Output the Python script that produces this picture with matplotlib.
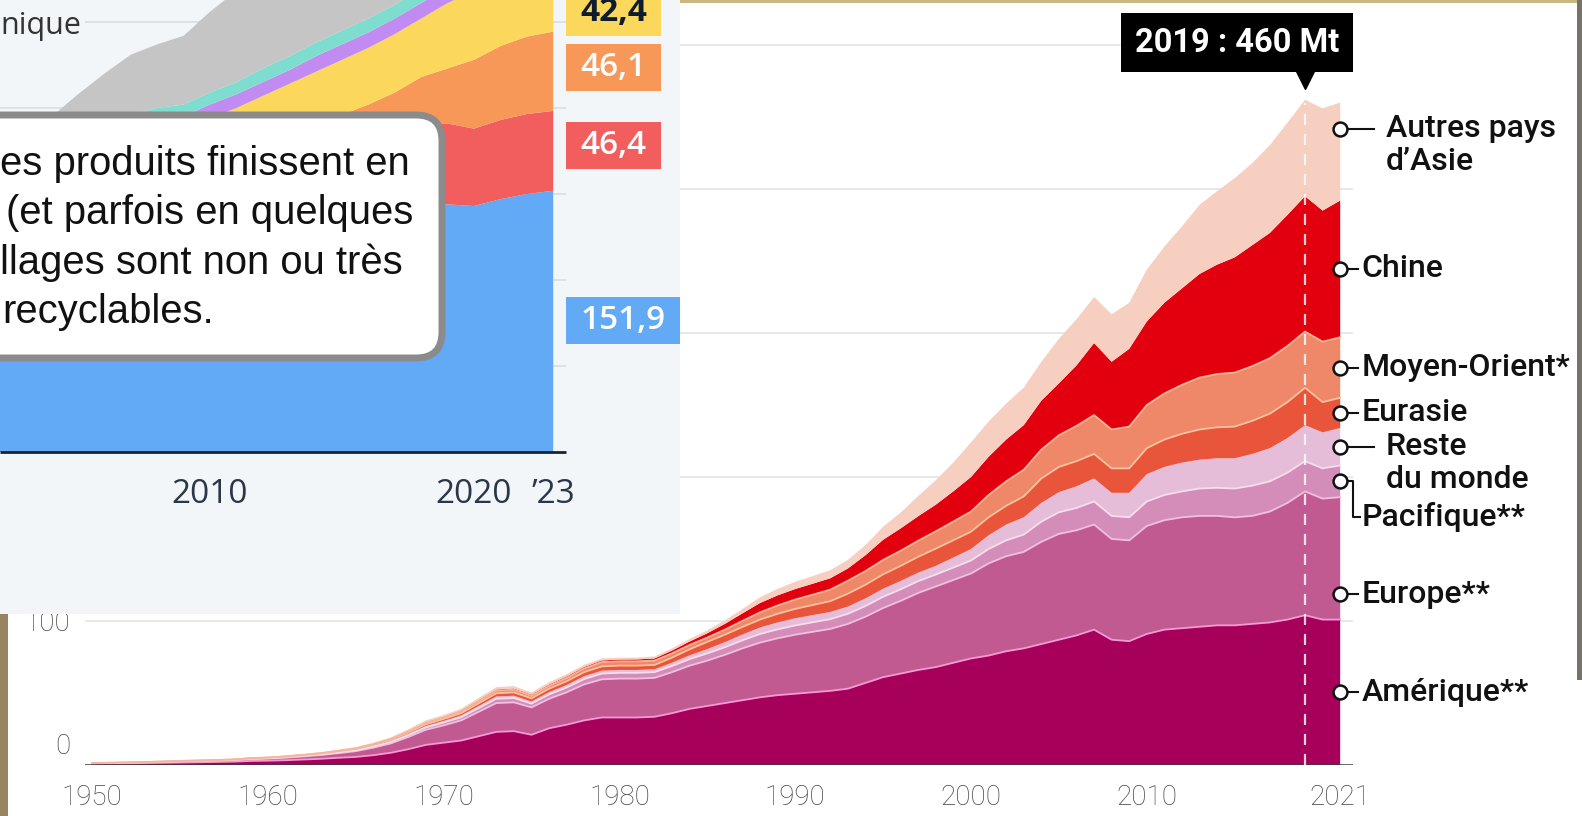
import numpy as np
import matplotlib
matplotlib.use('Agg')
import matplotlib.pyplot as plt
from matplotlib.patches import Rectangle, FancyBboxPatch
from matplotlib.transforms import offset_copy

W, H, DPI = 1582, 816, 100

# ---- main chart: plastic production by region (Mt), 1950-2021 ----
years = np.arange(1950, 2022)
amerique = [0.8, 1.0, 1.1, 1.3, 1.5, 1.7, 1.9, 2.1, 2.3, 2.8,
            3.0, 3.3, 3.8, 4.3, 5.0, 5.6, 6.8, 8.5, 11, 14,
            15.5, 17, 20, 23, 23.5, 21, 25.5, 28, 31, 33,
            33, 33, 33.5, 36, 39, 41, 43, 45, 47, 48.5,
            49.5, 50.5, 51.5, 53, 57, 61, 63.5, 66, 68, 71,
            74, 76, 79, 81, 84, 87, 90, 94, 87, 86,
            91, 94, 95, 96, 97, 97, 98, 99, 101, 104,
            101, 101]
europe = [0.3, 0.4, 0.5, 0.6, 0.7, 0.8, 0.9, 1.0, 1.1, 1.3,
          1.5, 1.8, 2.2, 2.6, 3.2, 4.0, 5.2, 6.5, 8.5, 10.5,
          12, 14, 17, 20, 20, 19, 20.5, 22.5, 25, 26.5,
          27, 27, 27, 28.5, 30, 31.5, 33.5, 36, 38, 39.5,
          41, 42, 43, 45, 46, 48, 50.5, 53.5, 56, 57.5,
          59, 64, 66, 67, 71, 73.5, 73, 73, 70, 70,
          75, 76, 77, 77, 76, 75, 75, 77, 81, 86,
          84, 85]
pacifique = [0.05, 0.05, 0.05, 0.05, 0.1, 0.1, 0.1, 0.1, 0.15, 0.2,
             0.2, 0.3, 0.3, 0.4, 0.5, 0.6, 0.8, 1.0, 1.3, 1.6,
             2.0, 2.2, 2.6, 3.0, 3.0, 2.6, 3.0, 3.3, 3.7, 4.0,
             4.0, 4.0, 4.0, 4.3, 4.6, 5.0, 5.3, 5.6, 6.0, 6.2,
             6.4, 6.6, 6.8, 7.0, 7.4, 7.8, 8.0, 8.2, 8.3, 8.6,
             9, 10, 11, 12, 14, 15, 15.5, 16, 16, 16,
             17, 17.5, 18, 19, 19.5, 20, 21, 21, 21, 21,
             21, 22]
reste = [0.05, 0.05, 0.05, 0.05, 0.05, 0.1, 0.1, 0.1, 0.1, 0.15,
         0.2, 0.2, 0.25, 0.3, 0.35, 0.4, 0.5, 0.6, 0.8, 1.0,
         1.1, 1.2, 1.4, 1.6, 1.6, 1.5, 1.6, 1.8, 2.0, 2.0,
         2.0, 2.0, 2.0, 2.3, 2.6, 3.0, 3.5, 4.0, 4.5, 4.8,
         5.0, 5.0, 5.0, 5.0, 5.3, 5.6, 5.8, 5.9, 6.0, 7.0,
         8, 9.5, 11, 12, 13, 14, 15, 16, 16, 17,
         19, 19.5, 20, 20, 20.5, 21, 22, 23, 24, 25,
         25, 26]
eurasie = [0.05, 0.05, 0.05, 0.05, 0.05, 0.1, 0.1, 0.1, 0.15, 0.2,
           0.25, 0.3, 0.35, 0.4, 0.5, 0.6, 0.7, 0.8, 1.0, 1.2,
           1.4, 1.6, 1.9, 2.2, 2.3, 2.2, 2.4, 2.6, 2.8, 3.0,
           3.0, 3.0, 3.0, 3.5, 4.2, 5.0, 5.2, 5.3, 5.5, 6.0,
           6.5, 7.0, 7.5, 9.0, 9.5, 10, 10.5, 11, 12, 12,
           12, 12.5, 13, 14.5, 17, 17.5, 17.5, 17, 17, 17,
           18, 19, 20, 21, 21.5, 22, 23, 24, 25, 26,
           21, 21]
moyen_orient = [0.02, 0.02, 0.02, 0.02, 0.02, 0.05, 0.05, 0.05, 0.05, 0.1,
                0.1, 0.1, 0.15, 0.2, 0.25, 0.3, 0.4, 0.5, 0.6, 0.8,
                1.0, 1.2, 1.5, 1.8, 1.9, 1.8, 2.0, 2.3, 2.6, 3.0,
                3.0, 3.0, 3.0, 3.0, 3.0, 3.0, 3.5, 4.2, 5.0, 5.8,
                6.5, 7.2, 8.0, 9.0, 9.5, 10, 10.5, 11.2, 12, 13,
                14, 15.5, 17, 18.5, 20, 22, 24.5, 27, 27, 29,
                30, 32, 34, 36, 37, 37.5, 38, 38.5, 39, 39,
                42, 42]
chine = [0.01, 0.01, 0.01, 0.01, 0.02, 0.02, 0.03, 0.03, 0.05, 0.08,
         0.1, 0.1, 0.12, 0.15, 0.2, 0.25, 0.3, 0.35, 0.4, 0.5,
         0.5, 0.6, 0.7, 0.8, 0.8, 0.8, 0.9, 1.0, 1.0, 1.1,
         1.2, 1.3, 1.5, 1.9, 2.4, 3.0, 4.0, 5.2, 6.5, 7.0,
         7.3, 7.6, 7.9, 8.5, 11, 14, 15.5, 17, 18.5, 21,
         24, 26.5, 29, 31, 34, 36, 42, 50, 47, 54,
         58, 63, 67, 72, 76, 80, 84, 87, 91, 94,
         91, 95]
autres_asie = [0.1, 0.1, 0.1, 0.1, 0.1, 0.1, 0.15, 0.15, 0.2, 0.3,
               0.3, 0.3, 0.4, 0.5, 0.6, 0.7, 0.8, 1.0, 1.2, 1.5,
               1.2, 1.3, 1.5, 1.7, 1.7, 1.5, 1.6, 1.6, 1.5, 1.4,
               1.3, 1.3, 1.4, 1.6, 1.8, 2.0, 2.5, 3.0, 4.0, 4.5,
               5.0, 5.3, 5.6, 6.0, 7.0, 9.0, 11, 14, 17, 20,
               24, 24.5, 25, 26, 27, 31, 32, 32, 33, 32,
               36, 39, 43, 48, 51, 55, 57, 61, 64, 67,
               71, 68]

regions = ['Amérique**', 'Europe**', 'Pacifique**', 'Reste du monde',
           'Eurasie', 'Moyen-Orient*', 'Chine', 'Autres pays d’Asie']
layers = [amerique, europe, pacifique, reste, eurasie, moyen_orient, chine, autres_asie]
colors = ['#a6005b', '#c25a92', '#d48cb9', '#e6bdd8',
          '#e9553b', '#ef8868', '#e2000e', '#f6cfc1']
edges = ['#f49ad3', '#f1bfe0', '#f7ddee', None, '#f8c2a0', '#f6b59a', None, None]

# ---- inset chart (left), 2002-2023 ----
years_l = np.arange(2002, 2024)
blue = [95, 100, 105, 108, 110, 112, 113, 113, 118, 122, 126, 130, 133, 136, 139, 141, 143, 144, 143, 147, 150, 151.9]
red = [28, 29, 30, 31, 32, 33, 34, 34, 35, 36, 37, 38, 39, 40, 41, 44, 48, 47, 45, 46, 46.5, 46.4]
orange = [12, 13, 13, 14, 14, 15, 15, 15, 16, 16, 17, 18, 19, 20, 22, 24, 27, 32, 40, 43, 45, 46.1]
yellow = [15, 15, 16, 17, 19, 21, 23, 25, 25, 26, 27, 28, 30, 32, 33, 34, 34, 38, 40, 40, 40.5, 42.4]
purple = [7, 7, 7, 7, 8, 8, 8, 8, 8, 8, 8, 8, 9, 9, 9, 9, 9, 9, 10, 10, 10, 10]
teal = [7, 7, 7, 7, 7, 7, 7, 7, 7, 7, 8, 8, 8, 8, 8, 8, 8, 9, 9, 9, 9, 9]
gray = [14, 15, 17, 24, 30, 35, 37, 40, 47, 53, 57, 60, 62, 64, 66, 68, 70, 72, 74, 76, 78, 80]
inset_layers = [blue, red, orange, yellow, purple, teal, gray]
inset_colors = ['#62a9f6', '#f25d5d', '#f89858', '#fbd85c', '#c28bf2', '#7fddd0', '#c5c5c5']
inset_labels = ['151,9', '46,4', '46,1', '42,4']

fig = plt.figure(figsize=(W / DPI, H / DPI), dpi=DPI, facecolor='white')

# ---------------- main chart ----------------
ppy = 17.58          # px per year
ppm = 1.44           # px per Mt
ax = fig.add_axes([85 / W, 51 / H, 1268 / W, 765 / H])
ax.set_xlim(1950 - 7 / ppy, 1950 - 7 / ppy + 1268 / ppy)
ax.set_ylim(0, 765 / ppm)
for s in ax.spines.values():
    s.set_visible(False)
ax.set_facecolor('white')

for g in [100, 200, 300, 400, 500]:
    ax.axhline(g, color='#e4e4e4', lw=1.2, zorder=0)

ax.stackplot(years, *layers, colors=colors, lw=0, zorder=2)
cum = np.cumsum(np.array(layers, dtype=float), axis=0)
for i, ec in enumerate(edges):
    if ec:
        ax.plot(years, cum[i], color=ec, lw=1.3, zorder=3)
ax.axhline(0, color='#3a3a3a', lw=1.8, zorder=4)

# 2019 marker
i19 = list(years).index(2019)
tot19 = cum[-1][i19]
ax.plot([2019, 2019], [0, tot19 - 2], color='white', alpha=0.8, lw=1.6,
        ls=(0, (5, 4)), zorder=4)
tri = offset_copy(ax.transData, fig=fig, x=0, y=20, units='dots')
ax.plot(2019, tot19, marker='v', ms=13, color='black', transform=tri, clip_on=False, zorder=6)
box_tr = offset_copy(ax.transData, fig=fig, x=-68, y=57, units='dots')
ax.text(2019, tot19, '2019 : 460 Mt', transform=box_tr, ha='center', va='center',
        fontsize=23.5, fontweight='bold', color='white', family='Roboto',
        bbox=dict(boxstyle='square,pad=0.42', fc='black', ec='none'), zorder=6)

ax.set_xticks([1950, 1960, 1970, 1980, 1990, 2000, 2010, 2021])
ax.tick_params(axis='x', length=0, pad=14, labelsize=20, labelcolor='#444444')
for lb in ax.get_xticklabels():
    lb.set_family('Roboto')
    lb.set_fontweight('light')
ax.set_yticks([])
ax.text(1948.75, 12.5, '0', ha='right', va='center', fontsize=20, color='#444444',
        family='Roboto', fontweight='light')
ax.text(1948.75, 98, '100', ha='right', va='center', fontsize=20, color='#444444',
        family='Roboto', fontweight='light')

# right-hand labels
mids = cum - np.array(layers, dtype=float) / 2
nudge = [0, -25, 0, 0, 0, 0, 0, 16]
lab_kw = dict(fontsize=23, color='#111111', family='Roboto', fontweight='medium',
              va='center', ha='left', clip_on=False)
x_end = 2021
for i, name in enumerate(regions):
    y = mids[i][-1] + nudge[i]
    if name in ('Autres pays d’Asie', 'Reste du monde'):
        ax.plot([x_end, x_end + 1.9], [y, y], color='#111111', lw=1.5, clip_on=False, zorder=7)
        first, second = ('Autres pays', 'd’Asie') if name.startswith('Autres') else ('Reste', 'du monde')
        ax.text(x_end + 2.6, y, first, **lab_kw)
        ax.text(x_end + 2.6, y - 23, second, **lab_kw)
    elif name.startswith('Pacifique'):
        ax.plot([x_end, x_end + 0.75, x_end + 0.75, x_end + 1.1],
                [y, y, y - 25, y - 25], color='#111111', lw=1.5, clip_on=False, zorder=7)
        ax.text(x_end + 1.2, y - 25, name, **lab_kw)
    else:
        ax.plot([x_end, x_end + 1.0], [y, y], color='#111111', lw=1.5, clip_on=False, zorder=7)
        ax.text(x_end + 1.2, y, name, **lab_kw)
    ax.plot(x_end, y, 'o', ms=10, mfc='white', mec='#111111', mew=1.8, clip_on=False, zorder=8)

# ---------------- inset chart ----------------
ppy_l, ppm_l = 26.4, 1.72
ax2 = fig.add_axes([0, (H - 614) / H, 680 / W, 614 / H])
x0 = 2010 - 210 / ppy_l
ax2.set_xlim(x0, x0 + 680 / ppy_l)
ax2.set_ylim((452 - 614) / ppm_l, 452 / ppm_l)
ax2.set_facecolor('#f3f6f9')
for s in ax2.spines.values():
    s.set_visible(False)
ax2.set_xticks([])
ax2.set_yticks([])
x_stop = 2023 + 13 / ppy_l
ax2.hlines([50, 100, 150, 200, 250], x0, x_stop, color='#d9dde2', lw=1.2, zorder=0)
ax2.stackplot(years_l, *inset_layers, colors=inset_colors, lw=0, zorder=2)
ax2.hlines(0, x0, x_stop, color='#1b2433', lw=2, zorder=3)
for yr, t in [(2010, '2010'), (2020, '2020'), (2023, '’23')]:
    ax2.text(yr, -24.5, t, ha='center', va='center', fontsize=24, color='#2b3648',
             family='Open Sans')

cum_l = np.cumsum(np.array(inset_layers, dtype=float), axis=0)
label_shift = [0.5, 3, 2, -10]
for i, t in enumerate(inset_labels):
    mid = cum_l[i][-1] - inset_layers[i][-1] / 2 + label_shift[i]
    w = (95 if len(t) < 5 else 114) / ppy_l
    h = 47 / ppm_l
    ax2.add_patch(Rectangle((x_stop, mid - h / 2), w, h, fc=inset_colors[i], ec='none', zorder=4))
    dark = t == '42,4'
    ax2.text(x_stop + w / 2, mid, t, ha='center', va='center', fontsize=24,
             color='#0f1c2e' if dark else 'white', family='Open Sans',
             fontweight='bold' if dark else 'semibold', zorder=5)

# ---------------- overlay (callout, photo edges) ----------------
ov = fig.add_axes([0, 0, 1, 1], facecolor='none')
ov.set_xlim(0, W)
ov.set_ylim(H, 0)
ov.axis('off')

ov.text(0, 26, 'nique', ha='left', va='center', fontsize=22, color='#333333',
        family='Open Sans', bbox=dict(boxstyle='square,pad=0.15', fc='#f3f6f9', ec='none'))

ov.add_patch(FancyBboxPatch((-40, 115), 482, 243,
                            boxstyle='round,pad=0,rounding_size=26',
                            fc='white', ec='#8b8b8b', lw=5, zorder=5))
callout = ['es produits finissent en', '(et parfois en quelques',
           'llages sont non ou très', 'recyclables.']
for k, (xx, line) in enumerate(zip([0, 6, 0, 2], callout)):
    ov.text(xx, 164 + 49.3 * k, line, ha='left', va='center', fontsize=28.8,
            color='#111111', family='Liberation Sans', zorder=6)

ov.add_patch(Rectangle((0, 614), 8, 202, fc='#9a8361', ec='none'))
ov.add_patch(Rectangle((680, 0), 902, 3, fc='#cbb780', ec='none'))
ov.add_patch(Rectangle((1577, 0), 5, 680, fc='#77726a', ec='none'))

fig.savefig('out.png', dpi=DPI, facecolor='white')
